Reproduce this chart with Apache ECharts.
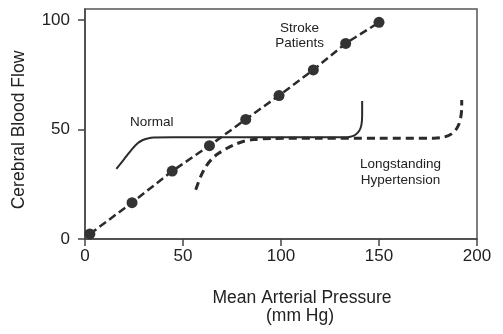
<!DOCTYPE html>
<html>
<head>
<meta charset="utf-8">
<script src="https://cdn.jsdelivr.net/npm/echarts@6/dist/echarts.min.js"></script>
<style>html,body{margin:0;padding:0;background:#fff;}#c{width:503px;height:334px;}</style>
</head>
<body>
<div id="c"></div>
<script>
// Stroke patients (dots, dashed line)
var strokeX = [2.5, 24, 44.5, 63.5, 82, 99, 116.5, 133, 150];
var strokeY = [2.3, 16.6, 31, 42.6, 54.6, 65.5, 77.2, 89.3, 98.9];
// Normal autoregulation curve (solid)
var normalX = [16, 20, 24, 27, 29.5, 32, 35, 45, 70, 100, 125, 132, 135.5, 138, 140, 141, 141.4, 141.4];
var normalY = [32, 36.5, 41, 43.8, 45.2, 45.9, 46.3, 46.4, 46.4, 46.4, 46.4, 46.4, 46.7, 47.6, 49.5, 52, 56, 63];
// Longstanding hypertension curve (dashed)
var hyperX = [56.5, 59, 62, 65, 68, 72, 76, 81, 86, 95, 120, 150, 178, 183, 186.5, 189, 190.8, 191.8, 192.2, 192.2];
var hyperY = [22.5, 28.5, 33.5, 36.8, 39, 41.2, 43, 44.6, 45.4, 45.9, 46, 46, 46, 46.5, 47.7, 49.6, 52.5, 56, 60, 63.5];
var xTicks = [0, 50, 100, 150, 200];
var yTicks = [0, 50, 100];
var xTitle = ['Mean Arterial Pressure', '(mm Hg)'];
var yTitle = 'Cerebral Blood Flow';
var labels = [
  {text: 'Normal', x: 34, y: 53.3},
  {text: 'Stroke\nPatients', x: 109.5, y: 92.7},
  {text: 'Longstanding\nHypertension', x: 161, y: 30.5}
];

function zip(a, b) { return a.map(function (v, i) { return [v, b[i]]; }); }
var FONT = '"Liberation Sans", Arial, Helvetica, sans-serif';
var ink = '#2b2b2b';

var chart = echarts.init(document.getElementById('c'));
var option = {
  animation: false,
  backgroundColor: '#fff',
  grid: {left: 85, right: 26, top: 9, bottom: 95, show: true, borderColor: '#555', borderWidth: 1.5, backgroundColor: 'transparent'},
  xAxis: {
    type: 'value', min: 0, max: 200, interval: 50,
    axisLine: {show: true, lineStyle: {color: '#444', width: 1.5}},
    axisTick: {show: true, length: 7, customValues: xTicks, lineStyle: {color: '#444', width: 1.5}},
    axisLabel: {color: '#222', fontSize: 17, fontFamily: FONT, margin: 9, customValues: xTicks},
    splitLine: {show: false}
  },
  yAxis: {
    type: 'value', min: 0, max: 105,
    axisLine: {show: true, lineStyle: {color: '#444', width: 1.5}},
    axisTick: {show: true, length: 7, customValues: yTicks, lineStyle: {color: '#444', width: 1.5}},
    axisLabel: {color: '#222', fontSize: 17, fontFamily: FONT, margin: 15, customValues: yTicks},
    splitLine: {show: false}
  },
  series: [
    {
      type: 'line', data: zip(normalX, normalY), smooth: 0.3, showSymbol: false, symbol: 'none',
      lineStyle: {color: ink, width: 2}, z: 2
    },
    {
      type: 'line', data: zip(hyperX, hyperY), smooth: 0.3, showSymbol: false, symbol: 'none',
      lineStyle: {color: ink, width: 3, type: [8, 5]}, z: 3
    },
    {
      type: 'line', data: zip(strokeX, strokeY), symbol: 'circle', symbolSize: 11, showSymbol: true,
      itemStyle: {color: '#333'},
      lineStyle: {color: ink, width: 2.5, type: [8, 4]}, z: 4
    }
  ]
};
chart.setOption(option);

var g = [];
labels.forEach(function (l) {
  var p = chart.convertToPixel({gridIndex: 0}, [l.x, l.y]);
  g.push({type: 'text', x: p[0], y: p[1], z: 10,
    style: {text: l.text, fill: '#222', font: '13.5px ' + FONT, textAlign: 'center', textVerticalAlign: 'middle', lineHeight: 15.5}});
});
g.push({type: 'text', x: 302, y: 298, style: {text: xTitle[0], fill: '#222', font: '17.5px ' + FONT, textAlign: 'center', textVerticalAlign: 'middle'}});
g.push({type: 'text', x: 300, y: 316, style: {text: xTitle[1], fill: '#222', font: '17.5px ' + FONT, textAlign: 'center', textVerticalAlign: 'middle'}});
g.push({type: 'text', x: 19, y: 130, rotation: Math.PI / 2, style: {text: yTitle, fill: '#222', font: '17.5px ' + FONT, textAlign: 'center', textVerticalAlign: 'middle'}});
chart.setOption({graphic: g});
</script>
</body>
</html>
